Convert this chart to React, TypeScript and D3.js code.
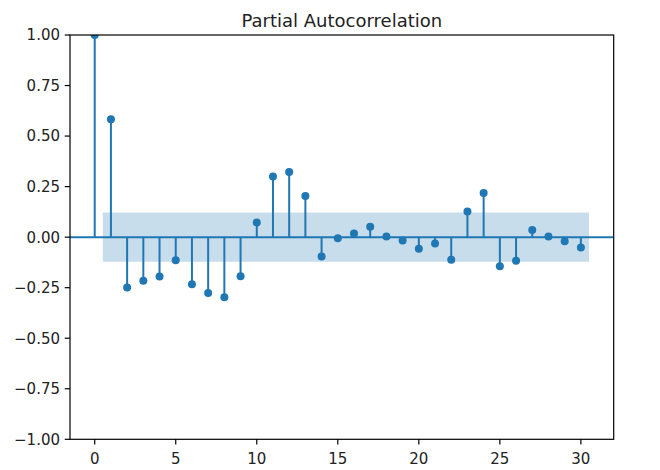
import React from "react";
import * as d3 from "d3";

const lags = Array.from({ length: 31 }, (_, i) => i);
const pacfValues = [
  1.0, 0.583, -0.249, -0.216, -0.195, -0.114, -0.233, -0.276, -0.297, -0.193,
  0.073, 0.3, 0.322, 0.203, -0.096, -0.005, 0.018, 0.051, 0.003, -0.017,
  -0.058, -0.031, -0.112, 0.127, 0.219, -0.144, -0.117, 0.035, 0.003, -0.02,
  -0.051,
];
const confBound = 0.122;
const xTicks = [0, 5, 10, 15, 20, 25, 30];
const yTicks = [-1, -0.75, -0.5, -0.25, 0, 0.25, 0.5, 0.75, 1];
const title = "Partial Autocorrelation";

const W = 660;
const H = 470;
const left = 70;
const right = 613.7;
const top = 35;
const bottom = 439.3;
const C0 = "#1f77b4";
const font = "DejaVu Sans, sans-serif";

export default function App() {
  const x = d3.scaleLinear().domain([-1.525, 32.025]).range([left, right]);
  const y = d3.scaleLinear().domain([-1, 1]).range([bottom, top]);
  const fmt = (v: number) => {
    const s = d3.format(".2f")(Math.abs(v));
    return v < 0 ? "\u2212" + s : s;
  };
  const bandLags = lags.slice(1).map((l, i, arr) =>
    i === 0 ? l - 0.5 : i === arr.length - 1 ? l + 0.5 : l
  );
  const area = d3
    .area<number>()
    .x((d) => x(d))
    .y0(() => y(-confBound))
    .y1(() => y(confBound));

  return (
    <svg
      width={W}
      height={H}
      style={{ position: "absolute", left: 0, top: 0, background: "#fff" }}
      fontFamily={font}
    >
      <defs>
        <clipPath id="plotclip">
          <rect x={left} y={top} width={right - left} height={bottom - top} />
        </clipPath>
      </defs>
      <text
        x={(left + right) / 2}
        y={27}
        textAnchor="middle"
        fontSize={18}
        fill="#222"
      >
        {title}
      </text>
      <g clipPath="url(#plotclip)">
        <path d={area(bandLags) || ""} fill={C0} fillOpacity={0.25} />
        <line x1={left} x2={right} y1={y(0)} y2={y(0)} stroke={C0} strokeWidth={2} />
        {lags.map((l, i) => (
          <line
            key={"s" + l}
            x1={x(l)}
            x2={x(l)}
            y1={y(0)}
            y2={y(pacfValues[i])}
            stroke={C0}
            strokeWidth={2}
          />
        ))}
        {lags.map((l, i) => (
          <circle key={"c" + l} cx={x(l)} cy={y(pacfValues[i])} r={4} fill={C0} />
        ))}
      </g>
      <rect
        x={left}
        y={top}
        width={right - left}
        height={bottom - top}
        fill="none"
        stroke="#000"
        strokeWidth={1.2}
      />
      {yTicks.map((t) => (
        <g key={"y" + t}>
          <line x1={left - 5.25} x2={left} y1={y(t)} y2={y(t)} stroke="#000" strokeWidth={1.2} />
          <text
            x={left - 10}
            y={y(t)}
            dy="0.36em"
            textAnchor="end"
            fontSize={15}
            fill="#222"
          >
            {fmt(t)}
          </text>
        </g>
      ))}
      {xTicks.map((t) => (
        <g key={"x" + t}>
          <line x1={x(t)} x2={x(t)} y1={bottom} y2={bottom + 5.25} stroke="#000" strokeWidth={1.2} />
          <text x={x(t)} y={463.5} textAnchor="middle" fontSize={15} fill="#222">
            {t}
          </text>
        </g>
      ))}
    </svg>
  );
}
